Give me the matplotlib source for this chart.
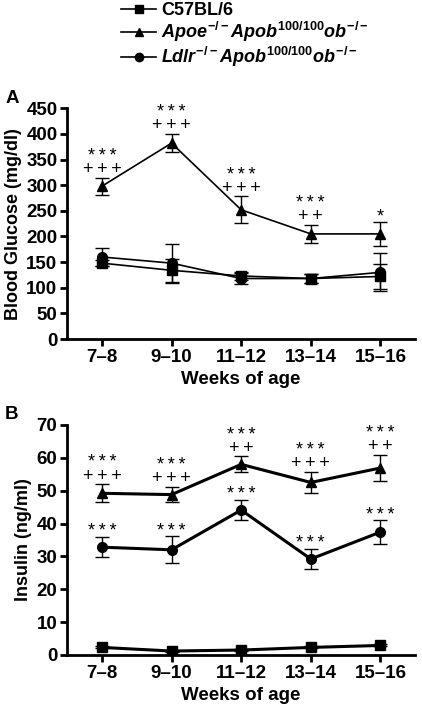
#!/usr/bin/env python3

import matplotlib
matplotlib.use("Agg")
import matplotlib.pyplot as plt

plt.rcParams['font.family'] = ['Liberation Sans', 'DejaVu Sans']
plt.rcParams['font.weight'] = 'bold'
plt.rcParams['axes.labelweight'] = 'bold'
plt.rcParams['mathtext.fontset'] = 'custom'
plt.rcParams['mathtext.rm'] = 'Liberation Sans'
plt.rcParams['mathtext.it'] = 'Liberation Sans:italic:bold'
plt.rcParams['mathtext.bf'] = 'Liberation Sans:bold'

# Data
weeks = ["7\u20138", "9\u201310", "11\u201312", "13\u201314", "15\u201316"]
series_names = ["C57BL/6",
                r"$Apoe^{\mathrm{-/-}}Apob^{\mathrm{100/100}}ob^{\mathrm{-/-}}$",
                r"$Ldlr^{\mathrm{-/-}}Apob^{\mathrm{100/100}}ob^{\mathrm{-/-}}$"]

# Panel A: blood glucose (mg/dl)
glucose_c57 = [148, 134, 123, 118, 122]
glucose_c57_err = [6, 22, 8, 8, 25]
glucose_apoe = [298, 382, 252, 205, 205]
glucose_apoe_err = [17, 18, 26, 18, 23]
glucose_ldlr = [160, 148, 118, 118, 130]
glucose_ldlr_err = [18, 38, 11, 9, 37]
glucose_apoe_stars = ["***", "***", "***", "***", "*"]
glucose_apoe_plus = ["+++", "+++", "+++", "++", ""]

# Panel B: insulin (ng/ml)
insulin_c57 = [2.3, 1.2, 1.5, 2.3, 2.9]
insulin_c57_err = [0.3, 0.3, 0.3, 0.3, 0.3]
insulin_apoe = [49.2, 48.8, 58.0, 52.5, 56.9]
insulin_apoe_err = [2.8, 2.4, 2.4, 3.2, 4.1]
insulin_ldlr = [32.8, 32.0, 44.1, 29.2, 37.4]
insulin_ldlr_err = [3.1, 4.1, 3.0, 3.1, 3.6]
insulin_apoe_stars = ["***", "***", "***", "***", "***"]
insulin_apoe_plus = ["+++", "+++", "++", "+++", "++"]
insulin_ldlr_stars = ["***", "***", "***", "***", "***"]

x = list(range(len(weeks)))


def spaced(s):
    return "\u2009".join(s)


def annotate(ax, vals, errs, stars, pluses):
    for i, (v, e) in enumerate(zip(vals, errs)):
        top = v + e
        p = pluses[i] if pluses else ""
        s = stars[i] if stars else ""
        lines = [spaced(t) for t in (s, p) if t]
        if not lines:
            continue
        off = 2.5 if p else 0.5
        ax.annotate("\n".join(lines), (x[i], top), xytext=(0, off),
                    textcoords='offset points', ha='center', va='baseline',
                    multialignment='center', linespacing=0.72,
                    fontsize=13, fontweight='normal')


def panel(ax, c57, c57e, apoe, apoee, ldlr, ldlre, lw, ylim, yticks, ylabel):
    for vals, errs, m in [(c57, c57e, 's'), (apoe, apoee, '^'), (ldlr, ldlre, 'o')]:
        ax.errorbar(x, vals, yerr=errs, color='black', marker=m, markersize=7,
                    linewidth=lw, elinewidth=1, capsize=5, capthick=1)
    ax.set_xlim(-0.5, 4.5)
    ax.set_ylim(*ylim)
    ax.set_yticks(yticks)
    ax.set_xticks(x)
    ax.set_xticklabels(weeks)
    ax.spines['top'].set_visible(False)
    ax.spines['right'].set_visible(False)
    for sp in ['left', 'bottom']:
        ax.spines[sp].set_linewidth(2)
    ax.tick_params(width=2, length=5, labelsize=13.5, pad=2)
    ax.set_ylabel(ylabel, fontsize=13, labelpad=3)
    ax.set_xlabel("Weeks of age", fontsize=13.5, labelpad=4)


fig = plt.figure(figsize=(4.22, 7.10), dpi=100)
axA = fig.add_axes([0.159, 0.5225, 0.825, 0.325])
axB = fig.add_axes([0.159, 0.0775, 0.825, 0.324])

panel(axA, glucose_c57, glucose_c57_err, glucose_apoe, glucose_apoe_err,
      glucose_ldlr, glucose_ldlr_err, 1.2, (0, 450), range(0, 451, 50),
      "Blood Glucose (mg/dl)")
annotate(axA, glucose_apoe, glucose_apoe_err, glucose_apoe_stars, glucose_apoe_plus)

panel(axB, insulin_c57, insulin_c57_err, insulin_apoe, insulin_apoe_err,
      insulin_ldlr, insulin_ldlr_err, 2.2, (0, 70), range(0, 71, 10),
      "Insulin (ng/ml)")
annotate(axB, insulin_apoe, insulin_apoe_err, insulin_apoe_stars, insulin_apoe_plus)
annotate(axB, insulin_ldlr, insulin_ldlr_err, insulin_ldlr_stars, None)

fig.text(0.012, 0.855, "A", fontsize=13.5, fontweight='bold')
fig.text(0.012, 0.41, "B", fontsize=13.5, fontweight='bold')

leg_handles = [plt.Line2D([], [], color='black', marker=m, markersize=6, linewidth=1.2)
               for m in ['s', '^', 'o']]
fig.legend(leg_handles, series_names, loc='upper left', bbox_to_anchor=(0.262, 1.012),
           frameon=False, fontsize=13, handlelength=1.9, handletextpad=0.3,
           labelspacing=0.05, borderpad=0.1)

fig.savefig("out.png", dpi=100)
